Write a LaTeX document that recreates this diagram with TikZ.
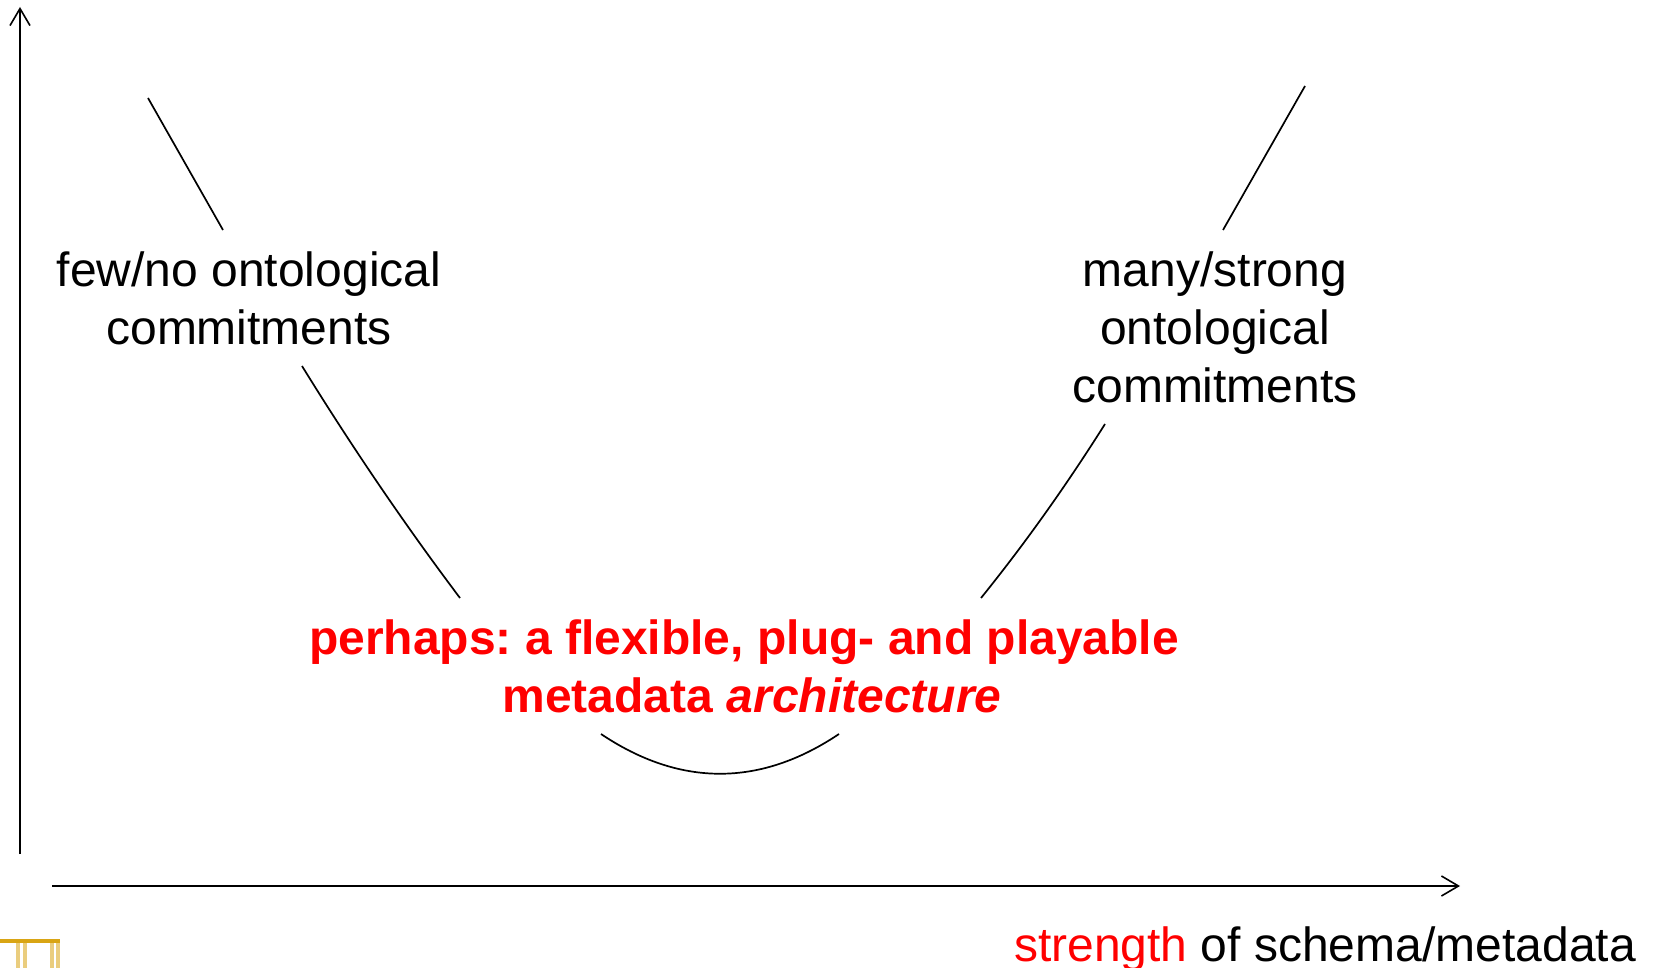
\documentclass[tikz,border=0pt]{standalone}
\usepackage{fontspec}
\setmainfont{Liberation Sans}
\usetikzlibrary{arrows.meta}
\definecolor{gold}{HTML}{D9A514}
\frenchspacing
\tikzset{
  axis/.style={draw=black,line width=1.8pt,-{Straight Barb[length=17pt,width=20pt,line width=1.6pt]}},
  curveline/.style={draw=black,line width=1.7pt},
  lab/.style={inner sep=0pt,align=center,font=\fontsize{48pt}{58pt}\selectfont,text=black},
  redlab/.style={lab,text=red,font=\fontsize{48pt}{58pt}\selectfont\bfseries},
  goldbar/.style={draw=gold!55,line width=3.5pt}
}
\begin{document}
\begin{tikzpicture}[x=1pt,y=-1pt]
\useasboundingbox (0,0) rectangle (1653,968);
% axes
\coordinate (yb) at (20,854); \coordinate (yt) at (20,7);
\coordinate (xl) at (52,886); \coordinate (xr) at (1460,886);
\draw[axis] (yb) -- (yt);
\draw[axis] (xl) -- (xr);
% labels
\node[lab,anchor=base] (few) at (249,344) {few/no ontological\\commitments};
\node[lab,anchor=base] (many) at (1215,402) {many/strong\\ontological\\commitments};
\node[redlab,anchor=base] (perhaps) at (744,712) {perhaps: a flexible, plug- and playable\\\hspace*{16pt}metadata \textit{architecture}};
\node[lab,anchor=base east] (strength) at (1636,961) {\textcolor{red}{strength} of schema/metadata};
% curve pieces
\coordinate (a1) at (148,98);  \coordinate (a2) at (223,230);
\coordinate (b1) at (302,366); \coordinate (b2) at (460,598);
\coordinate (c1) at (1305,86); \coordinate (c2) at (1223,230);
\coordinate (d1) at (1105,424);\coordinate (d2) at (981,598);
\coordinate (e1) at (601,734); \coordinate (e2) at (839,734);
\draw[curveline] (a1) -- (a2);
\draw[curveline] (b1) .. controls (352,447) and (405,525) .. (b2);
\draw[curveline] (c1) -- (c2);
\draw[curveline] (d1) .. controls (1064,489) and (1023,546) .. (d2);
\draw[curveline] (e1) .. controls (680,787) and (760,787) .. (e2);
% logo fragment
\draw[goldbar] (18,942) -- (18,968);
\draw[goldbar] (25,942) -- (25,968);
\draw[goldbar] (52,942) -- (52,968);
\draw[goldbar] (58,942) -- (58,968);
\draw[gold,line width=4pt] (0,941) -- (60,941);
\end{tikzpicture}
\end{document}
